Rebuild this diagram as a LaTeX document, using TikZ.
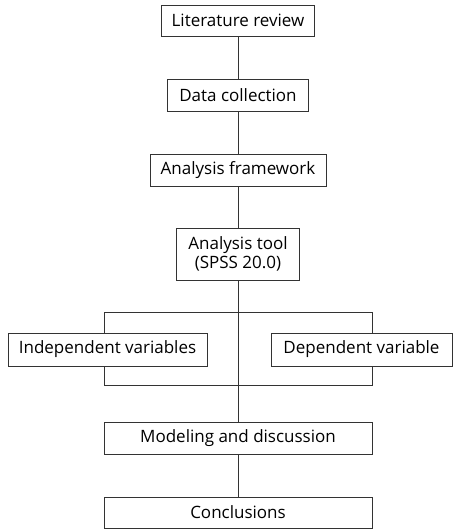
\documentclass[tikz,border=0pt]{standalone}
\usepackage{fontspec}
\setmainfont{Open Sans}
\usetikzlibrary{positioning}

\begin{document}
\begin{tikzpicture}[
        x=1pt, y=-1pt,
        box/.style={rectangle, draw=black!80, fill=white, line width=1pt, align=center, inner sep=0pt, font=\fontsize{17}{19.5}\selectfont},
        link/.style={draw=black!80, line width=1pt}
    ]
        \useasboundingbox (0,0) rectangle (453,530);

        % Nodes
        \node[box, minimum width=153pt, minimum height=31pt] (litreview) at (238,20.5) {Literature review};
        \node[box, minimum width=141pt, minimum height=32pt] (datacoll) at (238,95) {Data collection};
        \node[box, minimum width=176pt, minimum height=32pt] (framework) at (238,170) {Analysis framework};
        \node[box, minimum width=123pt, minimum height=52pt] (tool) at (238,254) {Analysis tool\\(SPSS 20.0)};

        % Bracket round the variables
        \draw[link] (104,312) rectangle (372,385);

        \node[box, minimum width=199pt, minimum height=33pt] (indep) at (107.5,349.5) {Independent variables};
        \node[box, minimum width=181pt, minimum height=33pt] (dep) at (361.5,349.5) {Dependent variable};
        \node[box, minimum width=268pt, minimum height=32pt] (modeling) at (238,438) {Modeling and discussion};
        \node[box, minimum width=268pt, minimum height=31pt] (concl) at (238,512.5) {Conclusions};

        % Connections
        \draw[link] (litreview) -- (datacoll);
        \draw[link] (datacoll) -- (framework);
        \draw[link] (framework) -- (tool);
        \draw[link] (tool) -- (modeling);
        \draw[link] (modeling) -- (concl);

\end{tikzpicture}
\end{document}
